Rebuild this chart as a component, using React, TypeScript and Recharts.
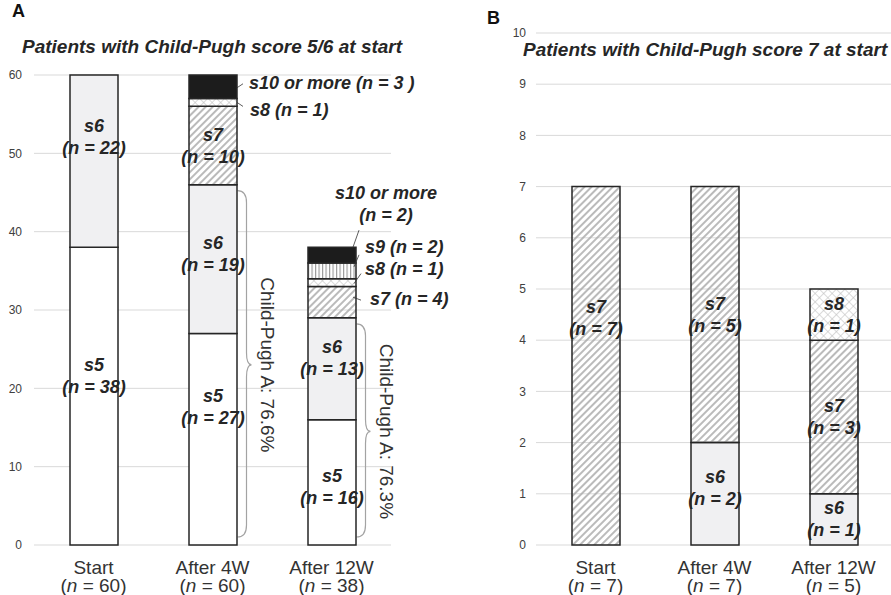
import React from "react";
import { BarChart, Bar, XAxis, YAxis, CartesianGrid, LabelList, ReferenceArea } from "recharts";

const categories = ["Start", "After 4W", "After 12W"];

// Child-Pugh score 5/6 at start
const s5A = [38, 27, 16];
const s6A = [22, 19, 13];
const s7A = [0, 10, 4];
const s8A = [0, 1, 1];
const s9A = [0, 0, 2];
const s10A = [0, 3, 2];
const yTicksA = [0, 10, 20, 30, 40, 50, 60];

// Child-Pugh score 7 at start
const s5B = [0, 0, 0];
const s6B = [0, 2, 1];
const s7B = [7, 5, 3];
const s8B = [0, 0, 1];
const s9B = [0, 0, 0];
const s10B = [0, 0, 0];
const yTicksB = [0, 1, 2, 3, 4, 5, 6, 7, 8, 9, 10];

const seriesKeys = ["s5", "s6", "s7", "s8", "s9", "s10"];
const seriesNames: Record<string, string> = {
  s5: "s5",
  s6: "s6",
  s7: "s7",
  s8: "s8",
  s9: "s9",
  s10: "s10 or more",
};

const FONT = '"Liberation Sans", Arial, Helvetica, sans-serif';
const BAR_SIZE = 48;
const INK = "#262626";

type Row = { cat: string; n: number; [k: string]: any };

function buildRows(cols: Record<string, number[]>): Row[] {
  return categories.map((cat, i) => {
    const row: Row = { cat, n: 0 };
    for (const k of seriesKeys) {
      row[k] = cols[k][i];
      row.n += cols[k][i];
    }
    return row;
  });
}

const rowsA = buildRows({ s5: s5A, s6: s6A, s7: s7A, s8: s8A, s9: s9A, s10: s10A });
const rowsB = buildRows({ s5: s5B, s6: s6B, s7: s7B, s8: s8B, s9: s9B, s10: s10B });

type Callout = {
  dx: number;
  dy: number;
  leader: [number, number, number, number];
  split?: boolean;
  trail?: string;
};

// labels placed beside the bar with a short leader line
const calloutsA: Record<string, Callout> = {
  "s10-1": { dx: 12, dy: -4, leader: [0, 1, 6, -3], trail: " " },
  "s8-1": { dx: 13, dy: 8, leader: [0, 0, 6, 4] },
  "s10-2": { dx: 30, dy: -62, leader: [-3, -8, 3, -25], split: true },
  "s9-2": { dx: 9, dy: -24, leader: [-2, -4, 3, -16] },
  "s8-2": { dx: 9, dy: -14, leader: [-2, 1, 5, -9] },
  "s7-2": { dx: 14, dy: -3, leader: [-3, -5, 5, -2] },
};

// vertical nudges for in-bar labels
const nudgeA: Record<string, number> = {
  "s5-0": -20,
  "s6-0": -24,
  "s6-1": -5,
  "s5-1": -32,
  "s6-2": -11,
  "s5-2": 5,
};
const nudgeB: Record<string, number> = {
  "s7-0": -48,
  "s6-1": -6,
};

const labelText = {
  fontFamily: FONT,
  fontWeight: 700,
  fontStyle: "italic" as const,
  fontSize: 18,
  fill: INK,
};

function Patterns({ id }: { id: string }) {
  return (
    <defs>
      <pattern id={`${id}-s7`} width={5} height={5} patternUnits="userSpaceOnUse" patternTransform="rotate(45)">
        <line x1={1} y1={0} x2={1} y2={5} stroke="#a9a9a9" strokeWidth={1.6} />
      </pattern>
      <pattern id={`${id}-s8`} width={6} height={6} patternUnits="userSpaceOnUse" patternTransform="rotate(45)">
        <rect width={6} height={6} fill="#ffffff" />
        <line x1={0} y1={0} x2={0} y2={6} stroke="#c2c2c2" strokeWidth={1.2} />
        <line x1={0} y1={0} x2={6} y2={0} stroke="#c2c2c2" strokeWidth={1.2} />
      </pattern>
      <pattern id={`${id}-s9`} width={3.5} height={4} patternUnits="userSpaceOnUse">
        <rect width={3.5} height={4} fill="#ffffff" />
        <line x1={0.6} y1={0} x2={0.6} y2={4} stroke="#8c8c8c" strokeWidth={1} />
      </pattern>
    </defs>
  );
}

function fillFor(id: string, key: string) {
  if (key === "s5") return "#ffffff";
  if (key === "s6") return "#f0f0f2";
  if (key === "s10") return "#1c1c1c";
  return `url(#${id}-${key})`;
}

// label value carries the category index so zero-height segments don't shift it
function segmentValue(key: string) {
  return (row: Row) => `${categories.indexOf(row.cat)}:${row[key]}`;
}

function makeSegmentLabel(key: string, callouts: Record<string, Callout>, nudges: Record<string, number>) {
  return (props: any) => {
    const vb = props.viewBox ?? props;
    const { x, y, width, height } = vb;
    const [idxStr, valStr] = String(props.value).split(":");
    const value = Number(valStr);
    if (!value || x == null) return null;
    const id = `${key}-${idxStr}`;
    const cy = y + height / 2;
    const c = callouts[id];
    if (c) {
      const right = x + width;
      const [ax, ay, bx, by] = c.leader;
      const lines = c.split
        ? [seriesNames[key], `(n = ${value})`]
        : [`${seriesNames[key]} (n = ${value}${c.trail ?? ""})`];
      return (
        <g>
          <line x1={right + ax} y1={cy + ay} x2={right + bx} y2={cy + by} stroke="#333" strokeWidth={0.8} />
          {lines.map((t, i) => (
            <text
              key={i}
              x={right + c.dx}
              y={cy + c.dy + i * 22 + 6}
              textAnchor={c.split ? "middle" : "start"}
              {...labelText}
            >
              {t}
            </text>
          ))}
        </g>
      );
    }
    const mid = cy + (nudges[id] ?? 0);
    const cx = x + width / 2;
    return (
      <g>
        <text x={cx} y={mid - 5} textAnchor="middle" {...labelText}>
          {seriesNames[key]}
        </text>
        <text x={cx} y={mid + 17} textAnchor="middle" {...labelText}>
          {`(n = ${value})`}
        </text>
      </g>
    );
  };
}

function makeCategoryTick(rows: Row[]) {
  return (props: any) => {
    const { x, y, payload } = props;
    const row = rows.find((r) => r.cat === payload.value);
    return (
      <g>
        <text x={x} y={y + 29} textAnchor="middle" fontFamily={FONT} fontSize={19} fill="#333">
          {payload.value}
        </text>
        <text x={x} y={y + 47} textAnchor="middle" fontFamily={FONT} fontSize={19} fill="#333">
          <tspan>(</tspan>
          <tspan fontStyle="italic">n</tspan>
          <tspan>{` = ${row ? row.n : ""})`}</tspan>
        </text>
      </g>
    );
  };
}

// curly brace to the right of the bar, spanning the Child-Pugh A part
function Brace(props: any) {
  const { x, y, width, height, text } = props;
  if (x == null) return null;
  const cx = x + width / 2;
  const x0 = cx + BAR_SIZE / 2 + 1;
  const x1 = x0 + 9;
  const top = y + 6;
  const bot = y + height - 8;
  const mid = (y + y + height) / 2;
  const r = 12;
  const d = `M${x0},${top} Q${x1},${top} ${x1},${top + r} L${x1},${mid - r} Q${x1},${mid} ${x1 + 5},${mid} Q${x1},${mid} ${x1},${mid + r} L${x1},${bot - r} Q${x1},${bot} ${x0},${bot}`;
  const tx = x1 + 21;
  return (
    <g>
      <path d={d} fill="none" stroke="#a3a3a3" strokeWidth={1.2} />
      <text
        x={tx}
        y={mid}
        transform={`rotate(90 ${tx} ${mid})`}
        textAnchor="middle"
        dominantBaseline="central"
        fontFamily={FONT}
        fontSize={19}
        fill="#333"
      >
        {text}
      </text>
    </g>
  );
}

function childPughA(row: Row) {
  const pct = Math.floor(((row.s5 + row.s6) / row.n) * 1000) / 10;
  return `Child-Pugh A: ${pct.toFixed(1)}%`;
}

type PanelProps = {
  id: string;
  rows: Row[];
  width: number;
  top: number;
  right: number;
  yWidth: number;
  yMax: number;
  yTicks: number[];
  tickGap: number;
  callouts: Record<string, Callout>;
  nudges: Record<string, number>;
  braces: string[];
};

function Panel({ id, rows, width, top, right, yWidth, yMax, yTicks, tickGap, callouts, nudges, braces }: PanelProps) {
  return (
    <BarChart
      width={width}
      height={595}
      data={rows}
      margin={{ top, right, bottom: 0, left: 0 }}
      barSize={BAR_SIZE}
      style={{ overflow: "visible" }}
    >
      <Patterns id={id} />
      <CartesianGrid vertical={false} stroke="#d9d9d9" strokeWidth={1} />
      <XAxis
        dataKey="cat"
        height={50}
        axisLine={false}
        tickLine={false}
        tickSize={0}
        tickMargin={0}
        interval={0}
        tick={makeCategoryTick(rows)}
      />
      <YAxis
        width={yWidth}
        domain={[0, yMax]}
        ticks={yTicks}
        interval={0}
        axisLine={false}
        tickLine={false}
        tickSize={0}
        tickMargin={tickGap}
        tick={{ fontSize: 12, fill: "#404040", fontFamily: FONT }}
      />
      {seriesKeys.map((key) => (
        <Bar
          key={key}
          dataKey={key}
          stackId="cp"
          fill={fillFor(id, key)}
          stroke={INK}
          strokeWidth={1.5}
          isAnimationActive={false}
        >
          <LabelList dataKey={segmentValue(key)} content={makeSegmentLabel(key, callouts, nudges)} />
        </Bar>
      ))}
      {rows
        .filter((r) => braces.includes(r.cat))
        .map((r) => (
          <ReferenceArea
            key={`brace-${r.cat}`}
            x1={r.cat}
            x2={r.cat}
            y1={0}
            y2={r.s5 + r.s6}
            ifOverflow="visible"
            shape={(p: any) => <Brace {...p} text={childPughA(r)} />}
          />
        ))}
    </BarChart>
  );
}

export default function App() {
  return (
    <div
      style={{
        position: "absolute",
        left: 0,
        top: 0,
        width: 891,
        height: 595,
        overflow: "hidden",
        background: "#ffffff",
        fontFamily: FONT,
      }}
    >
      <div style={{ position: "absolute", left: 0, top: 0 }}>
        <Panel
          id="pa"
          rows={rowsA}
          width={470}
          top={75}
          right={79}
          yWidth={34}
          yMax={60}
          yTicks={yTicksA}
          tickGap={12}
          callouts={calloutsA}
          nudges={nudgeA}
          braces={["After 4W", "After 12W"]}
        />
      </div>
      <div style={{ position: "absolute", left: 480, top: 0 }}>
        <Panel
          id="pb"
          rows={rowsB}
          width={413}
          top={33}
          right={0}
          yWidth={56}
          yMax={10}
          yTicks={yTicksB}
          tickGap={10}
          callouts={{}}
          nudges={nudgeB}
          braces={[]}
        />
      </div>
      <div style={{ position: "absolute", left: 12, top: 1, fontSize: 18, fontWeight: 700, color: "#111" }}>A</div>
      <div
        style={{
          position: "absolute",
          left: 22,
          top: 36,
          fontSize: 19,
          fontWeight: 700,
          fontStyle: "italic",
          color: INK,
          whiteSpace: "nowrap",
        }}
      >
        Patients with Child-Pugh score 5/6 at start
      </div>
      <div style={{ position: "absolute", left: 487, top: 8, fontSize: 18, fontWeight: 700, color: "#111" }}>B</div>
      <div
        style={{
          position: "absolute",
          left: 523,
          top: 39,
          fontSize: 19,
          fontWeight: 700,
          fontStyle: "italic",
          color: INK,
          whiteSpace: "nowrap",
        }}
      >
        Patients with Child-Pugh score 7 at start
      </div>
    </div>
  );
}
